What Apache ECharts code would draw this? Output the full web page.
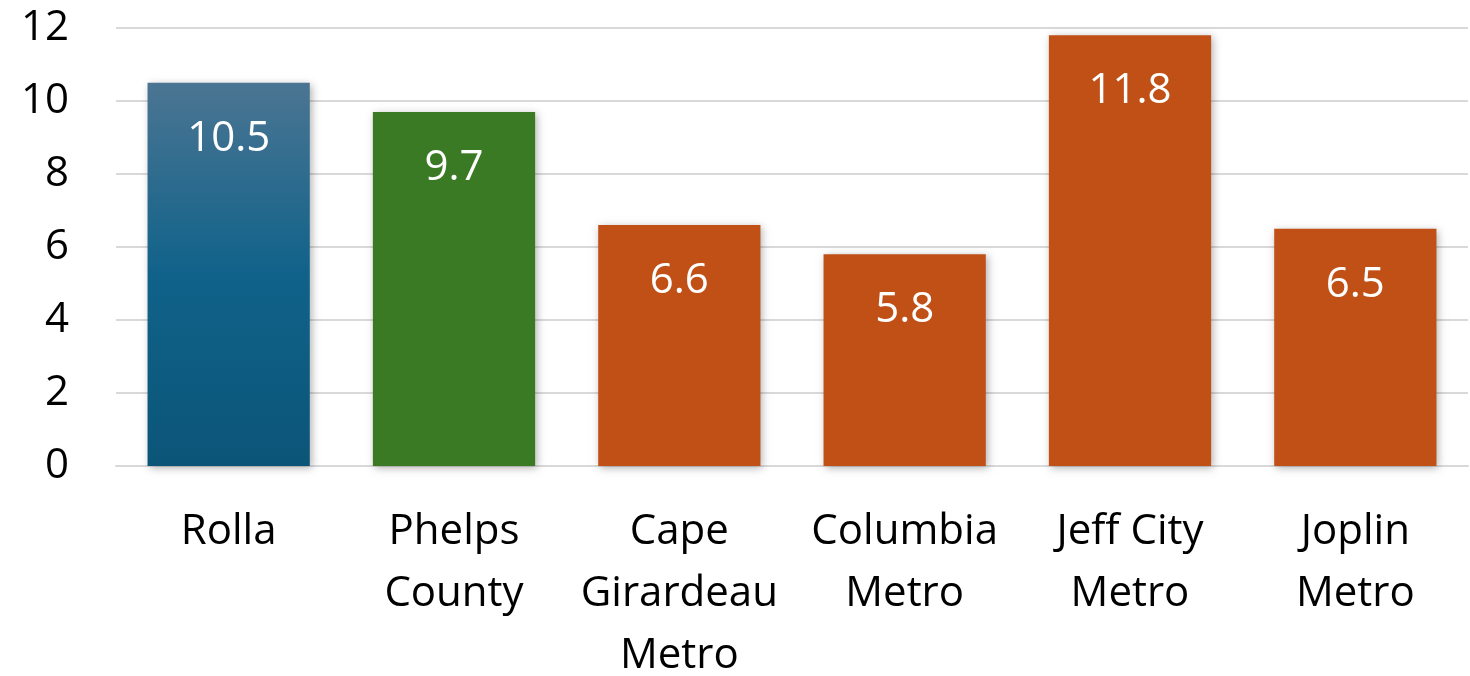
<!DOCTYPE html>
<html><head><meta charset="utf-8">
<script src="https://cdn.jsdelivr.net/npm/echarts@6/dist/echarts.min.js"></script>
<style>html,body{margin:0;padding:0;background:#fff}#c{width:1470px;height:676px}</style>
</head><body><div id="c"></div>
<script>
const categories = ["Rolla", "Phelps\nCounty", "Cape\nGirardeau\nMetro", "Columbia\nMetro", "Jeff City\nMetro", "Joplin\nMetro"];
const values = [10.5, 9.7, 6.6, 5.8, 11.8, 6.5];
const barColors = [null, "#3b7a24", "#c05016", "#c05016", "#c05016", "#c05016"];

const chart = echarts.init(document.getElementById('c'));
const font = '"Open Sans", "Liberation Sans", sans-serif';
const data = values.map((v, i) => ({
  value: v,
  itemStyle: {
    color: i === 0 ? new echarts.graphic.LinearGradient(0, 0, 0, 1, [
      {offset: 0, color: '#4b7592'}, {offset: 0.5, color: '#10628a'}, {offset: 1, color: '#0b5578'}
    ]) : barColors[i]
  }
}));
chart.setOption({
  animation: false,
  grid: {left: 116, right: 2, top: 28, bottom: 210, outerBoundsMode: 'none', containLabel: false},
  xAxis: {
    type: 'category', data: categories,
    axisLine: {show: true, lineStyle: {color: '#d9d9d9', width: 2}},
    axisTick: {show: false},
    axisLabel: {color: '#000', fontFamily: font, fontSize: 42, lineHeight: 62, margin: 35, interval: 0}
  },
  yAxis: {
    type: 'value', min: 0, max: 12, interval: 2,
    axisLine: {show: false}, axisTick: {show: false},
    splitLine: {lineStyle: {color: '#d9d9d9', width: 2}},
    axisLabel: {color: '#000', fontFamily: font, fontSize: 42, margin: 47}
  },
  series: [{
    type: 'bar', data: data, barCategoryGap: '28%',
    itemStyle: {shadowBlur: 8, shadowColor: 'rgba(0,0,0,0.3)', shadowOffsetX: 2, shadowOffsetY: 2},
    label: {show: true, position: 'insideTop', distance: 35, color: '#fff', fontFamily: font, fontSize: 42}
  }]
});
</script></body></html>
